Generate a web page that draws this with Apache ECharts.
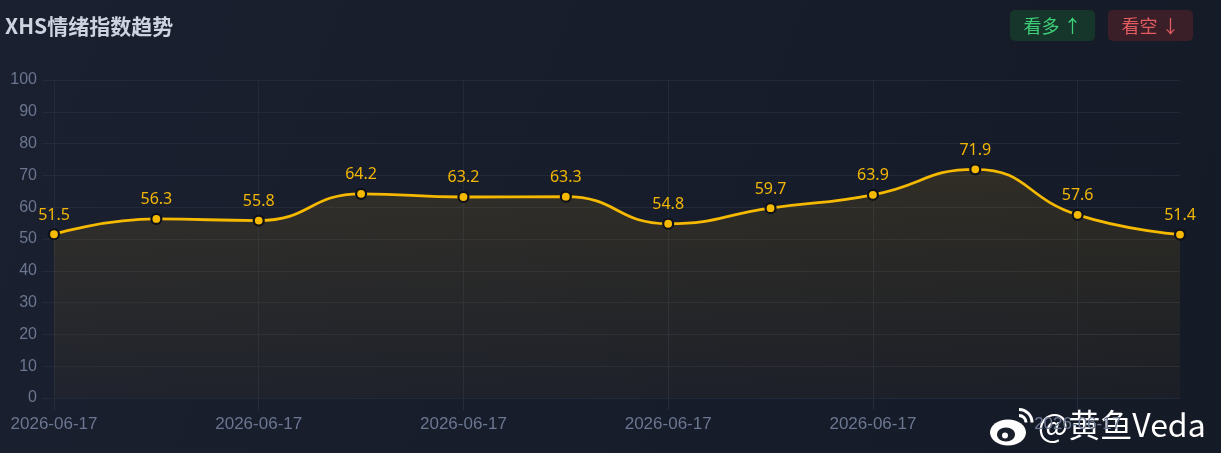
<!DOCTYPE html>
<html>
<head>
<meta charset="utf-8">
<script src="https://cdn.jsdelivr.net/npm/echarts@6/dist/echarts.min.js"></script>
<style>
  html, body { margin: 0; padding: 0; background: #161b28; }
  #chart { width: 1221px; height: 453px; }
</style>
</head>
<body>
<div id="chart"></div>
<script>
const dates = [
  "2026-06-17", "2026-06-17", "2026-06-17", "2026-06-17",
  "2026-06-17", "2026-06-17", "2026-06-17", "2026-06-17",
  "2026-06-17", "2026-06-17", "2026-06-17", "2026-06-17",
];
const sentiment = [51.5, 56.3, 55.8, 64.2, 63.2, 63.3, 54.8, 59.7, 63.9, 71.9, 57.6, 51.4];
const yTicks = { min: 0, max: 100, interval: 10 };

const chart = echarts.init(document.getElementById("chart"));

const option = {
  backgroundColor: new echarts.graphic.LinearGradient(0, 0, 1, 1, [
    { offset: 0, color: "#1b2030" },
    { offset: 1, color: "#151a27" },
  ]),
  title: {
    text: "XHS情绪指数趋势",
    left: 0,
    top: 11,
    textStyle: {
      color: "#cdd4e0",
      fontSize: 21,
      fontWeight: "bold",
      fontFamily: "Noto Sans CJK SC",
    },
  },
  graphic: [
    // 看多 按钮
    {
      type: "group",
      left: 1010,
      top: 10,
      children: [
        {
          type: "rect",
          shape: { x: 0, y: 0, width: 85, height: 31, r: 5 },
          style: { fill: "#16352b" },
        },
        {
          type: "text",
          x: 42.5,
          y: 16,
          style: {
            text: "看多 ↑",
            fill: "#3fcf78",
            font: "18px 'Noto Sans CJK SC'",
            align: "center",
            verticalAlign: "middle",
          },
        },
      ],
    },
    // 看空 按钮
    {
      type: "group",
      left: 1108,
      top: 10,
      children: [
        {
          type: "rect",
          shape: { x: 0, y: 0, width: 85, height: 31, r: 5 },
          style: { fill: "#3a1f29" },
        },
        {
          type: "text",
          x: 42.5,
          y: 16,
          style: {
            text: "看空 ↓",
            fill: "#e45c5f",
            font: "18px 'Noto Sans CJK SC'",
            align: "center",
            verticalAlign: "middle",
          },
        },
      ],
    },
    // 水印 (微博图标 + 文字)
    {
      type: "group",
      left: 990,
      top: 407,
      z: 100,
      children: [
        {
          type: "ellipse",
          shape: { cx: 19, cy: 24, rx: 18, ry: 13 },
          style: { fill: "#ffffff" },
        },
        {
          type: "ellipse",
          shape: { cx: 17, cy: 26, rx: 9, ry: 7 },
          style: { fill: "#1a1f2c" },
        },
        {
          type: "circle",
          shape: { cx: 16, cy: 27, r: 3 },
          style: { fill: "#ffffff" },
        },
        {
          type: "arc",
          shape: { cx: 30, cy: 14, r: 7, startAngle: -Math.PI / 2, endAngle: 0 },
          style: { stroke: "#ffffff", lineWidth: 3, fill: null },
        },
        {
          type: "arc",
          shape: { cx: 30, cy: 14, r: 13, startAngle: -Math.PI / 2, endAngle: 0 },
          style: { stroke: "#ffffff", lineWidth: 3, fill: null },
        },
        {
          type: "text",
          x: 49,
          y: 0,
          style: {
            text: "@黄鱼Veda",
            fill: "#ffffff",
            font: "32px 'Noto Sans CJK SC'",
          },
        },
      ],
    },
  ],
  grid: {
    left: 54,
    right: 41,
    top: 80,
    bottom: 55,
  },
  xAxis: {
    type: "category",
    data: dates,
    boundaryGap: false,
    axisLine: { show: false },
    axisTick: {
      show: true,
      interval: 1,
      length: 12,
      lineStyle: { color: "#262c3b" },
    },
    axisLabel: {
      interval: 1,
      color: "#6b7690",
      fontSize: 17,
      margin: 18,
      fontFamily: "Liberation Sans",
    },
    splitLine: {
      show: true,
      interval: 1,
      lineStyle: { color: "#232939", width: 1 },
    },
  },
  yAxis: {
    type: "value",
    min: yTicks.min,
    max: yTicks.max,
    interval: yTicks.interval,
    axisLine: { show: false },
    axisTick: {
      show: true,
      length: 12,
      lineStyle: { color: "#242a39" },
    },
    axisLabel: {
      color: "#6b7690",
      fontSize: 16,
      margin: 17,
      fontFamily: "Liberation Sans",
    },
    splitLine: {
      lineStyle: { color: "#232939", width: 1 },
    },
  },
  series: [
    {
      type: "line",
      data: sentiment,
      smooth: true,
      symbol: "circle",
      symbolSize: 10,
      lineStyle: { color: "#f5b900", width: 2.8 },
      itemStyle: {
        color: "#f5b900",
        borderColor: "#0e1119",
        borderWidth: 2.2,
      },
      label: {
        show: true,
        position: "top",
        distance: 5,
        color: "#f2b705",
        fontSize: 16,
        fontFamily: "Noto Sans",
      },
      areaStyle: {
        color: new echarts.graphic.LinearGradient(0, 0, 0, 1, [
          { offset: 0, color: "rgba(245,185,0,0.16)" },
          { offset: 1, color: "rgba(245,185,0,0.04)" },
        ]),
      },
    },
  ],
};

chart.setOption(option);
</script>
</body>
</html>
